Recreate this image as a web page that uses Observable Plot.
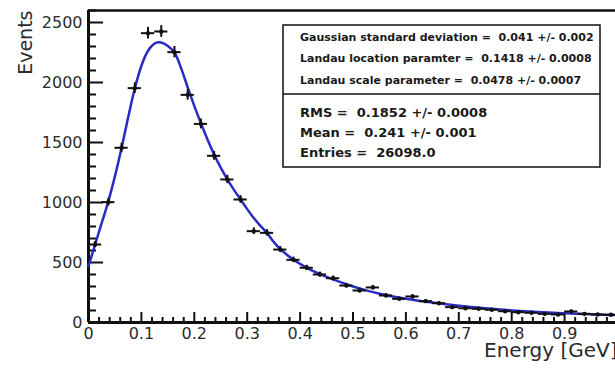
<!DOCTYPE html>
<html>
<head>
<meta charset="utf-8">
<script src="https://cdn.jsdelivr.net/npm/d3@7"></script>
<script src="https://cdn.jsdelivr.net/npm/@observablehq/plot@0.6"></script>
<style>
  html, body { margin: 0; padding: 0; background: #fff; }
</style>
</head>
<body>
<div id="chart"></div>
<script>
// ---- data ----
const binCenters = [0.0125, 0.0375, 0.0625, 0.0875, 0.1125, 0.1375, 0.1625, 0.1875, 0.2125, 0.2375,
                    0.2625, 0.2875, 0.3125, 0.3375, 0.3625, 0.3875, 0.4125, 0.4375, 0.4625, 0.4875,
                    0.5125, 0.5375, 0.5625, 0.5875, 0.6125, 0.6375, 0.6625, 0.6875, 0.7125, 0.7375,
                    0.7625, 0.7875, 0.8125, 0.8375, 0.8625, 0.8875, 0.9125, 0.9375, 0.9625, 0.9875];
const counts = [650, 1003, 1456, 1953, 2411, 2425, 2253, 1897, 1655, 1389,
                1192, 1025, 761, 747, 608, 522, 456, 400, 369, 308,
                267, 292, 225, 197, 217, 178, 161, 128, 119, 114,
                106, 94, 86, 81, 72, 67, 92, 72, 67, 64];
const countErrors = [25, 32, 38, 44, 49, 49, 47, 44, 41, 37,
                     35, 32, 28, 27, 25, 23, 21, 20, 19, 18,
                     16, 17, 15, 14, 15, 13, 13, 11, 11, 11,
                     10, 10, 9, 9, 8, 8, 10, 8, 8, 8];
const binHalfWidth = 0.0125;

const fitX = [0, 0.0125, 0.025, 0.0375, 0.05, 0.0625, 0.075, 0.0875, 0.1, 0.1125,
              0.125, 0.1325, 0.1375, 0.15, 0.1625, 0.175, 0.1875, 0.2, 0.2125, 0.225,
              0.2375, 0.25, 0.2625, 0.275, 0.2875, 0.3, 0.3125, 0.325, 0.3375, 0.35,
              0.3625, 0.375, 0.3875, 0.4, 0.4125, 0.425, 0.45, 0.475, 0.5, 0.525,
              0.55, 0.575, 0.6, 0.65, 0.7, 0.75, 0.8, 0.85, 0.9, 0.95, 1.0];
const fitY = [470, 650, 830, 1010, 1220, 1455, 1710, 1950, 2140, 2265,
              2325, 2336, 2333, 2305, 2250, 2120, 1960, 1805, 1660, 1525,
              1400, 1290, 1192, 1105, 1025, 945, 870, 805, 745, 672,
              612, 565, 523, 488, 456, 428, 380, 338, 300, 268,
              240, 217, 198, 166, 139, 118, 101, 88, 77, 68, 61];

const xTickLabels = [0, 0.1, 0.2, 0.3, 0.4, 0.5, 0.6, 0.7, 0.8, 0.9];
const yTickLabels = [0, 500, 1000, 1500, 2000, 2500];
const xTitle = "Energy [GeV]";
const yTitle = "Events";
const fitParamLines = [
  "Gaussian standard deviation =  0.041 +/- 0.002",
  "Landau location paramter =  0.1418 +/- 0.0008",
  "Landau scale parameter =  0.0478 +/- 0.0007"
];
const statLines = [
  "RMS =  0.1852 +/- 0.0008",
  "Mean =  0.241 +/- 0.001",
  "Entries =  26098.0"
];

// ---- layout ----
const W = 615, H = 368;
const mL = 88, mR = -2, mT = 10, mB = 46;
const pw = W - mL - mR, ph = H - mT - mB;
const xDomain = [0, 1], yDomain = [0, 2600];

const xMajor = d3.range(0, 11).map(i => i / 10);
const xMinor = d3.range(0, 51).map(i => i / 50).filter(v => Math.round(v * 50) % 5 !== 0);
const yMajor = d3.range(0, 2600, 500);
const yMinor = d3.range(0, 2601, 100).filter(v => v % 500 !== 0);

const ink = "#111";
const labelInk = "#2b2b2b";

const chart = Plot.plot({
  width: W, height: H,
  marginLeft: mL, marginRight: mR, marginTop: mT, marginBottom: mB,
  x: { domain: xDomain },
  y: { domain: yDomain },
  style: { fontFamily: "DejaVu Sans", background: "white", color: ink },
  marks: [
    // tick labels
    Plot.axisX(xTickLabels, { tickSize: 0, tickPadding: 5, fontSize: 16, label: null,
      tickFormat: d => String(d), fill: labelInk }),
    Plot.axisY(yTickLabels, { tickSize: 0, tickPadding: 6, fontSize: 16, label: null,
      tickFormat: d => String(d), fill: labelInk }),
    // inward ticks
    Plot.tickY(yMajor, { y: d => d, insetRight: pw - 15, strokeWidth: 2, stroke: ink }),
    Plot.tickY(yMinor, { y: d => d, insetRight: pw - 8, strokeWidth: 2, stroke: ink }),
    Plot.tickX(xMajor, { x: d => d, insetTop: ph - 10, strokeWidth: 2, stroke: ink }),
    Plot.tickX(xMinor, { x: d => d, insetTop: ph - 5, strokeWidth: 2, stroke: ink }),
    // frame
    Plot.ruleX([xDomain[0]], { strokeWidth: 3, stroke: ink }),
    Plot.ruleY([yDomain[0]], { strokeWidth: 3, stroke: ink }),
    Plot.ruleY([yDomain[1]], { strokeWidth: 2.5, stroke: ink }),
    // fit curve
    Plot.line(fitX, { x: d => d, y: (d, i) => fitY[i], curve: "catmull-rom",
      stroke: "#2a2ac4", strokeWidth: 2.5 }),
    // data points with error bars
    Plot.ruleY(binCenters, { y: (d, i) => counts[i], x1: d => d - binHalfWidth, x2: d => d + binHalfWidth,
      stroke: ink, strokeWidth: 2 }),
    Plot.ruleX(binCenters, { x: d => d, y1: (d, i) => counts[i] - countErrors[i], y2: (d, i) => counts[i] + countErrors[i],
      stroke: ink, strokeWidth: 2 }),
    Plot.dot(binCenters, { x: d => d, y: (d, i) => counts[i], r: 2.2, fill: ink, stroke: null }),
    // axis titles
    Plot.text([yTitle], { frameAnchor: "top-left", dx: -70, dy: 0, rotate: -90, textAnchor: "end",
      fontSize: 19, fill: labelInk }),
    Plot.text([xTitle], { frameAnchor: "bottom-right", dx: 0, dy: 34, textAnchor: "end",
      fontSize: 20, fill: labelInk })
  ]
});

document.getElementById("chart").appendChild(chart);

// ---- statistics box ----
const svg = d3.select(chart);
const box = svg.append("g").attr("font-family", "DejaVu Sans").attr("font-weight", "bold")
  .attr("fill", "#1a1a1a").attr("text-anchor", "start");
box.append("rect").attr("x", 283).attr("y", 25).attr("width", 317).attr("height", 142)
  .attr("fill", "white").attr("stroke", ink).attr("stroke-width", 1.5);
box.append("line").attr("x1", 283).attr("x2", 600).attr("y1", 94).attr("y2", 94)
  .attr("stroke", ink).attr("stroke-width", 1.5);
fitParamLines.forEach((t, i) => {
  box.append("text").attr("x", 300).attr("y", 40.7 + i * 21.7).attr("font-size", 11)
    .attr("text-anchor", "start").text(t);
});
statLines.forEach((t, i) => {
  box.append("text").attr("x", 300).attr("y", 116.5 + i * 20.3).attr("font-size", 13)
    .attr("text-anchor", "start").text(t);
});
</script>
</body>
</html>
